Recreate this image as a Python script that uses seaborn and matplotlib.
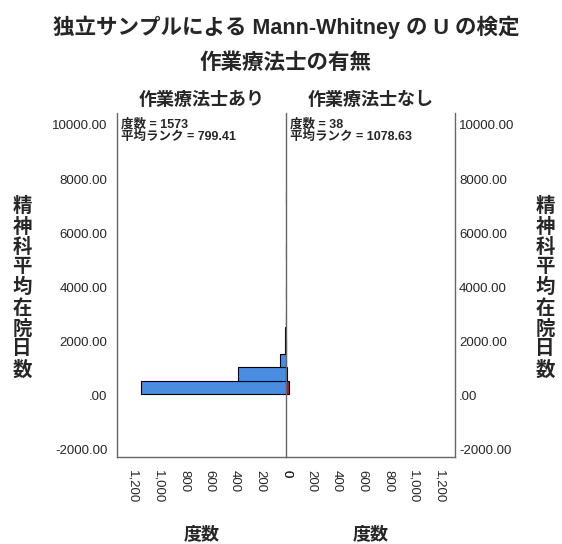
import matplotlib
matplotlib.use("Agg")
import matplotlib.pyplot as plt
import numpy as np
import seaborn as sns

# histogram bins of 精神科平均在院日数 (days), width 500
bin_edges = [50 + 500 * k for k in range(16)]
counts_with_ot = [1137, 375, 45, 8, 4, 1, 0, 1, 0, 0, 1, 0, 0, 0, 1]
counts_without_ot = [24, 10, 3, 1, 0, 0, 0, 0, 0, 0, 0, 0, 0, 0, 0]

group_names = ["作業療法士あり", "作業療法士なし"]
group_n = [1573, 38]
group_mean_rank = [799.41, 1078.63]

y_ticks = [-2000, 0, 2000, 4000, 6000, 8000, 10000]
y_tick_labels = ["-2000.00", ".00", "2000.00", "4000.00", "6000.00", "8000.00", "10000.00"]
x_ticks = [0, 200, 400, 600, 800, 1000, 1200]
x_tick_labels = ["0", "200", "400", "600", "800", "1,000", "1,200"]

sns.set_style("white")
plt.rcParams["font.family"] = ["Liberation Sans", "Noto Sans CJK JP"]

fig = plt.figure(figsize=(5.62, 5.44), dpi=100)
W, H = 562, 544


def add_panel(x0, x1, y0, y1):
    return fig.add_axes([x0 / W, 1 - y1 / H, (x1 - x0) / W, (y1 - y0) / H])


ax_l = add_panel(117, 286, 113, 457)
ax_r = add_panel(286, 455, 113, 457)

centers = [(a + b) / 2 for a, b in zip(bin_edges[:-1], bin_edges[1:])]
sns.histplot(y=centers, weights=counts_with_ot, bins=bin_edges, ax=ax_l,
             color="#4a8ce0", edgecolor="black", linewidth=0.8, alpha=1)
sns.histplot(y=centers, weights=counts_without_ot, bins=bin_edges, ax=ax_r,
             color="#c4122f", edgecolor="black", linewidth=0.8, alpha=1)

ylim = (-2260, 10440)
for ax in (ax_l, ax_r):
    # empty bins would still leave an edge line
    for p in ax.patches:
        if p.get_width() == 0:
            p.set_visible(False)
    ax.set_facecolor("none")
    ax.set_ylim(*ylim)
    ax.set_xticks(x_ticks)
    ax.set_xticklabels(x_tick_labels, rotation=-90, fontsize=9.5)
    ax.set_yticks(y_ticks)
    ax.set_yticklabels(y_tick_labels, fontsize=9.5)
    ax.tick_params(length=0, pad=4)
    ax.tick_params(axis="x", pad=9)
    ax.set_xlabel("")
    ax.set_ylabel("")
    for s in ax.spines.values():
        s.set_color("#666666")
        s.set_linewidth(1.0)
    ax.spines["top"].set_visible(False)

ax_l.set_xlim(1325, 0)
ax_r.set_xlim(0, 1325)
ax_l.spines["right"].set_visible(False)
ax_r.spines["left"].set_zorder(5)
ax_r.yaxis.tick_right()
ax_r.tick_params(axis="y", pad=3)
ax_l.tick_params(axis="y", pad=7)

for ax, name, n, mr in zip((ax_l, ax_r), group_names, group_n, group_mean_rank):
    ax.text(0.025, 0.968, f"度数 = {n}", transform=ax.transAxes, fontsize=9,
            fontweight="bold", va="center", ha="left")
    ax.text(0.025, 0.932, f"平均ランク = {mr:.2f}", transform=ax.transAxes, fontsize=9,
            fontweight="bold", va="center", ha="left")
    ax.text(0.5, 1 + 13 / 344, name, transform=ax.transAxes, fontsize=13,
            fontweight="bold", ha="center", va="center")
    ax.text(0.5, -78 / 344, "度数", transform=ax.transAxes, fontsize=13,
            fontweight="bold", ha="center", va="center")

fig.text(286 / W, 1 - 27 / H, "独立サンプルによる Mann-Whitney の U の検定",
         fontsize=15.5, fontweight="bold", ha="center", va="center")
fig.text(285 / W, 1 - 63 / H, "作業療法士の有無",
         fontsize=15.5, fontweight="bold", ha="center", va="center")

y_label = "\n".join("精神科平均在院日数")
for xc in (22, 545):
    fig.text(xc / W, 1 - 288 / H, y_label, fontsize=14, fontweight="bold",
             ha="center", va="center", linespacing=1.12)

fig.savefig("out.png", dpi=100)
